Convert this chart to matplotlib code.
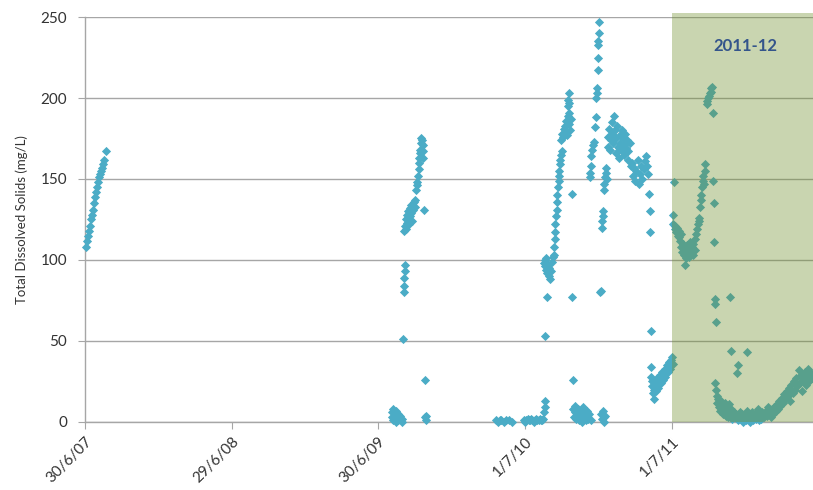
import matplotlib
matplotlib.use("Agg")
import matplotlib.pyplot as plt
import matplotlib.dates as mdates
from matplotlib.patches import Rectangle
import pandas as pd

plt.rcParams["font.family"] = ["Lato", "DejaVu Sans"]

# Sampling campaigns: (date, TDS mg/L)
SAMPLES_2007 = [
    ("2007-07-02", 108), ("2007-07-04", 112), ("2007-07-07", 115), ("2007-07-09", 118),
    ("2007-07-12", 121), ("2007-07-14", 125), ("2007-07-17", 128), ("2007-07-19", 131),
    ("2007-07-22", 135), ("2007-07-24", 139), ("2007-07-27", 142), ("2007-07-29", 145),
    ("2007-08-01", 148), ("2007-08-03", 151), ("2007-08-06", 153), ("2007-08-08", 155),
    ("2007-08-11", 157), ("2007-08-13", 159), ("2007-08-16", 162), ("2007-08-20", 167),
]

SAMPLES_2009 = [
    ("2009-08-03", 3), ("2009-08-04", 6), ("2009-08-05", 1), ("2009-08-06", 8),
    ("2009-08-08", 4), ("2009-08-09", 2), ("2009-08-10", 5), ("2009-08-12", 0),
    ("2009-08-13", 7), ("2009-08-15", 3), ("2009-08-17", 1), ("2009-08-19", 5),
    ("2009-08-21", 2), ("2009-08-24", 4), ("2009-08-27", 0), ("2009-08-29", 2),
    ("2009-08-30", 51),
    ("2009-09-01", 80), ("2009-09-02", 84), ("2009-09-03", 89), ("2009-09-04", 93),
    ("2009-09-05", 97),
    ("2009-09-03", 118), ("2009-09-05", 121), ("2009-09-06", 125), ("2009-09-08", 119),
    ("2009-09-09", 123), ("2009-09-10", 128), ("2009-09-12", 126), ("2009-09-13", 130),
    ("2009-09-14", 122), ("2009-09-16", 132), ("2009-09-17", 127), ("2009-09-19", 129),
    ("2009-09-20", 134), ("2009-09-22", 124), ("2009-09-24", 131), ("2009-09-26", 136),
    ("2009-09-28", 133), ("2009-09-30", 137),
    ("2009-10-02", 143), ("2009-10-04", 146), ("2009-10-05", 148),
    ("2009-10-07", 152), ("2009-10-08", 156), ("2009-10-09", 160), ("2009-10-10", 163),
    ("2009-10-11", 166), ("2009-10-12", 168), ("2009-10-13", 172), ("2009-10-14", 175),
    ("2009-10-16", 174), ("2009-10-18", 171), ("2009-10-19", 167), ("2009-10-20", 163),
    ("2009-10-22", 131), ("2009-10-23", 26),
    ("2009-10-25", 3), ("2009-10-26", 1), ("2009-10-27", 4),
]

SAMPLES_2010 = [
    ("2010-04-20", 1), ("2010-04-24", 0), ("2010-04-28", 1), ("2010-05-02", 1),
    ("2010-05-08", 0), ("2010-05-14", 1), ("2010-05-22", 1), ("2010-05-28", 0),
    ("2010-06-27", 1), ("2010-07-01", 0), ("2010-07-04", 1), ("2010-07-07", 2),
    ("2010-07-10", 1), ("2010-07-13", 1), ("2010-07-16", 2), ("2010-07-19", 1),
    ("2010-07-22", 0), ("2010-07-25", 1), ("2010-07-28", 2), ("2010-07-31", 1),
    ("2010-08-03", 1), ("2010-08-06", 2), ("2010-08-09", 1), ("2010-08-12", 1),
    ("2010-08-15", 2),
    ("2010-08-17", 6), ("2010-08-18", 9), ("2010-08-19", 13),
    ("2010-08-20", 53), ("2010-08-25", 77),
    ("2010-08-16", 98), ("2010-08-18", 100), ("2010-08-19", 96), ("2010-08-21", 101),
    ("2010-08-22", 94), ("2010-08-24", 92), ("2010-08-26", 97), ("2010-08-28", 90),
    ("2010-08-30", 95), ("2010-09-01", 88), ("2010-09-03", 93), ("2010-09-05", 99),
    ("2010-09-07", 102),
    ("2010-09-10", 103), ("2010-09-11", 108), ("2010-09-12", 113), ("2010-09-13", 117),
    ("2010-09-14", 122), ("2010-09-15", 127), ("2010-09-17", 131), ("2010-09-18", 136),
    ("2010-09-19", 140), ("2010-09-20", 145), ("2010-09-22", 149), ("2010-09-24", 152),
    ("2010-09-23", 155), ("2010-09-25", 159), ("2010-09-26", 162), ("2010-09-28", 165),
    ("2010-10-01", 167),
    ("2010-09-29", 174), ("2010-10-01", 178), ("2010-10-03", 176), ("2010-10-05", 181),
    ("2010-10-07", 183), ("2010-10-09", 179), ("2010-10-11", 186), ("2010-10-13", 177),
    ("2010-10-15", 189), ("2010-10-17", 184), ("2010-10-19", 191), ("2010-10-21", 180),
    ("2010-10-23", 187),
    ("2010-10-15", 195), ("2010-10-16", 199), ("2010-10-17", 203), ("2010-10-18", 197),
    ("2010-10-25", 141), ("2010-10-26", 77), ("2010-10-27", 26),
    ("2010-10-28", 8), ("2010-10-30", 3), ("2010-11-01", 6), ("2010-11-03", 10),
    ("2010-11-05", 2), ("2010-11-07", 5), ("2010-11-09", 8), ("2010-11-11", 1),
    ("2010-11-13", 4), ("2010-11-15", 7), ("2010-11-17", 3), ("2010-11-19", 0),
    ("2010-11-21", 6), ("2010-11-23", 9), ("2010-11-25", 2), ("2010-11-27", 5),
    ("2010-11-29", 1), ("2010-12-01", 4), ("2010-12-03", 7), ("2010-12-05", 2),
    ("2010-12-08", 5), ("2010-12-11", 1),
    ("2010-12-09", 151), ("2010-12-10", 154), ("2010-12-11", 158), ("2010-12-13", 164),
    ("2010-12-15", 168), ("2010-12-17", 171), ("2010-12-19", 173), ("2010-12-22", 182),
    ("2010-12-24", 188), ("2010-12-25", 200), ("2010-12-26", 203), ("2010-12-27", 206),
    ("2010-12-28", 217), ("2010-12-29", 225), ("2010-12-30", 233), ("2010-12-30", 235),
    ("2010-12-31", 240), ("2010-12-31", 247),
    ("2011-01-04", 80), ("2011-01-05", 81),
    ("2011-01-06", 5), ("2011-01-08", 2), ("2011-01-10", 7), ("2011-01-12", 3),
    ("2011-01-14", 0), ("2011-01-16", 4),
    ("2011-01-08", 120), ("2011-01-09", 124), ("2011-01-10", 127), ("2011-01-11", 130),
    ("2011-01-12", 143), ("2011-01-14", 147), ("2011-01-15", 151), ("2011-01-17", 154),
    ("2011-01-18", 157), ("2011-01-20", 150),
    ("2011-01-22", 170), ("2011-01-24", 176), ("2011-01-26", 181), ("2011-01-28", 168),
    ("2011-01-30", 174), ("2011-02-01", 185), ("2011-02-03", 178), ("2011-02-05", 172),
    ("2011-02-07", 189), ("2011-02-09", 180), ("2011-02-11", 166), ("2011-02-13", 175),
    ("2011-02-15", 183), ("2011-02-17", 170), ("2011-02-19", 163), ("2011-02-21", 177),
    ("2011-02-23", 172), ("2011-02-25", 168), ("2011-02-27", 180), ("2011-03-01", 175),
    ("2011-03-03", 165), ("2011-03-05", 171), ("2011-03-07", 178), ("2011-03-09", 169),
    ("2011-03-11", 174), ("2011-03-13", 162), ("2011-03-15", 167), ("2011-03-18", 172),
    ("2011-03-21", 158),
    ("2011-03-23", 160), ("2011-03-26", 152), ("2011-03-29", 157), ("2011-04-01", 149),
    ("2011-04-04", 155), ("2011-04-07", 162), ("2011-04-10", 147), ("2011-04-13", 153),
    ("2011-04-16", 158), ("2011-04-19", 150), ("2011-04-22", 156), ("2011-04-25", 161),
    ("2011-04-28", 164), ("2011-05-01", 158), ("2011-05-04", 153),
    ("2011-05-06", 141), ("2011-05-07", 130), ("2011-05-08", 117), ("2011-05-10", 56),
    ("2011-05-10", 34), ("2011-05-11", 28), ("2011-05-12", 22), ("2011-05-14", 25),
    ("2011-05-15", 18), ("2011-05-17", 14), ("2011-05-18", 20), ("2011-05-20", 24),
    ("2011-05-22", 19), ("2011-05-24", 23), ("2011-05-26", 27), ("2011-05-28", 21),
    ("2011-05-30", 25), ("2011-06-01", 29), ("2011-06-03", 24), ("2011-06-05", 28),
    ("2011-06-07", 31), ("2011-06-09", 26), ("2011-06-11", 30), ("2011-06-13", 33),
    ("2011-06-15", 28), ("2011-06-17", 32), ("2011-06-19", 35), ("2011-06-21", 31),
    ("2011-06-23", 34), ("2011-06-25", 37), ("2011-06-27", 33), ("2011-06-29", 38),
    ("2011-07-01", 40), ("2011-07-03", 36),
]

SAMPLES_2011_12 = [
    ("2011-07-04", 128), ("2011-07-06", 148), ("2011-07-05", 122), ("2011-07-08", 119),
    ("2011-07-10", 121), ("2011-07-12", 117), ("2011-07-14", 120), ("2011-07-16", 115),
    ("2011-07-18", 118), ("2011-07-20", 114), ("2011-07-23", 116),
    ("2011-07-22", 112), ("2011-07-25", 108), ("2011-07-27", 105), ("2011-07-29", 110),
    ("2011-07-31", 103), ("2011-08-02", 97), ("2011-08-04", 106), ("2011-08-06", 101),
    ("2011-08-08", 109), ("2011-08-10", 104), ("2011-08-12", 107), ("2011-08-14", 102),
    ("2011-08-16", 111), ("2011-08-18", 105), ("2011-08-20", 108), ("2011-08-22", 103),
    ("2011-08-24", 110), ("2011-08-27", 106),
    ("2011-08-29", 113), ("2011-08-31", 116), ("2011-09-02", 119), ("2011-09-04", 122),
    ("2011-09-06", 126), ("2011-09-08", 124),
    ("2011-09-10", 133), ("2011-09-12", 137), ("2011-09-13", 140), ("2011-09-14", 145),
    ("2011-09-16", 149), ("2011-09-17", 152), ("2011-09-19", 147), ("2011-09-21", 155),
    ("2011-09-23", 159),
    ("2011-09-26", 196), ("2011-09-28", 198), ("2011-09-30", 200), ("2011-10-02", 201),
    ("2011-10-04", 203), ("2011-10-06", 204), ("2011-10-08", 206), ("2011-10-10", 207),
    ("2011-10-12", 191), ("2011-10-13", 149), ("2011-10-14", 135), ("2011-10-15", 111),
    ("2011-10-16", 76), ("2011-10-17", 73), ("2011-10-19", 62),
    ("2011-11-24", 77), ("2011-11-25", 44), ("2012-01-05", 43),
    ("2011-12-13", 35), ("2011-12-10", 30),
    ("2011-10-18", 24), ("2011-10-19", 20), ("2011-10-21", 16), ("2011-10-22", 12),
    ("2011-10-24", 14), ("2011-10-26", 9), ("2011-10-28", 11), ("2011-10-30", 7),
    ("2011-11-01", 13), ("2011-11-03", 8), ("2011-11-05", 5), ("2011-11-07", 10),
    ("2011-11-09", 6), ("2011-11-11", 12), ("2011-11-13", 4), ("2011-11-15", 9),
    ("2011-11-17", 3), ("2011-11-19", 7), ("2011-11-21", 11), ("2011-11-23", 5),
    ("2011-11-26", 8), ("2011-11-29", 2), ("2011-12-02", 6), ("2011-12-05", 3),
    ("2011-12-08", 5),
    ("2011-12-11", 4), ("2011-12-14", 1), ("2011-12-17", 6), ("2011-12-20", 2),
    ("2011-12-23", 5), ("2011-12-26", 0), ("2011-12-29", 3), ("2012-01-01", 1),
    ("2012-01-04", 7), ("2012-01-07", 2), ("2012-01-10", 4), ("2012-01-13", 0),
    ("2012-01-16", 6), ("2012-01-19", 1), ("2012-01-22", 3), ("2012-01-25", 5),
    ("2012-01-28", 2), ("2012-01-31", 8), ("2012-02-03", 1), ("2012-02-06", 4),
    ("2012-02-09", 2), ("2012-02-12", 6), ("2012-02-15", 3), ("2012-02-18", 5),
    ("2012-02-21", 7), ("2012-02-24", 4), ("2012-02-27", 9), ("2012-03-01", 6),
    ("2012-03-04", 3), ("2012-03-07", 8),
    ("2012-03-10", 5), ("2012-03-13", 9), ("2012-03-16", 7), ("2012-03-19", 11),
    ("2012-03-22", 8), ("2012-03-25", 13), ("2012-03-28", 10), ("2012-03-31", 15),
    ("2012-04-03", 12), ("2012-04-06", 17), ("2012-04-09", 14), ("2012-04-12", 19),
    ("2012-04-15", 16), ("2012-04-18", 21), ("2012-04-21", 13), ("2012-04-24", 23),
    ("2012-04-27", 18), ("2012-04-30", 25), ("2012-05-03", 20), ("2012-05-06", 27),
    ("2012-05-09", 22), ("2012-05-12", 32), ("2012-05-15", 24), ("2012-05-18", 29),
    ("2012-05-21", 19), ("2012-05-24", 26), ("2012-05-27", 31), ("2012-05-30", 23),
    ("2012-06-02", 28), ("2012-06-05", 33), ("2012-06-08", 25), ("2012-06-11", 30),
    ("2012-06-14", 27),
]

TICK_DATES = ["2007-06-30", "2008-06-29", "2009-06-30", "2010-07-01", "2011-07-01"]
TICK_LABELS = ["30/6/07", "29/6/08", "30/6/09", "1/7/10", "1/7/11"]
Y_TICKS = [0, 50, 100, 150, 200, 250]
PERIOD_START = "2011-07-02"
PERIOD_LABEL = "2011-12"

GRID = "#a6a6a6"
POINT = "#4bacc6"

df = pd.DataFrame(SAMPLES_2007 + SAMPLES_2009 + SAMPLES_2010 + SAMPLES_2011_12,
                  columns=["date", "tds"])
df["date"] = pd.to_datetime(df["date"])

fig = plt.figure(figsize=(8.13, 4.90), dpi=100)
ax = fig.add_axes([0.1046, 0.1388, 0.8954, 0.8265])

ax.scatter(df["date"], df["tds"], marker="D", s=22, color=POINT,
           linewidths=0, zorder=3, clip_on=False)

x0 = pd.Timestamp("2007-06-30")
x1 = pd.Timestamp("2012-06-17")
ax.set_xlim(x0, x1)
ax.set_ylim(0, 250)

# shaded 2011-12 period, drawn over the points like the original
start = mdates.date2num(pd.Timestamp(PERIOD_START))
end = mdates.date2num(x1)
ax.add_patch(Rectangle((start, 0), end - start, 252.5, facecolor="#6f8e2a",
                       alpha=0.37, edgecolor="none", zorder=4, clip_on=False))
ax.text(pd.Timestamp("2011-12-31"), 232, PERIOD_LABEL, ha="center", va="center",
        fontsize=12, fontweight="bold", color="#34558b", zorder=5)

ax.set_yticks(Y_TICKS)
ax.set_xticks(pd.to_datetime(TICK_DATES))
ax.set_xticklabels(TICK_LABELS, rotation=45, ha="right", rotation_mode="anchor")
ax.tick_params(axis="x", length=5, color=GRID, labelsize=11, labelcolor="#333333", pad=4)
ax.tick_params(axis="y", length=5, color=GRID, labelsize=11, labelcolor="#333333", pad=8)

ax.grid(axis="y", color=GRID, linewidth=1)
ax.set_axisbelow(True)
for side in ["top", "right"]:
    ax.spines[side].set_visible(False)
for side in ["left", "bottom"]:
    ax.spines[side].set_color(GRID)
    ax.spines[side].set_linewidth(1)

ax.set_ylabel("Total Dissolved Solids (mg/L)", fontsize=9.5, color="#333333", labelpad=9)

fig.savefig("out.png", dpi=100)
